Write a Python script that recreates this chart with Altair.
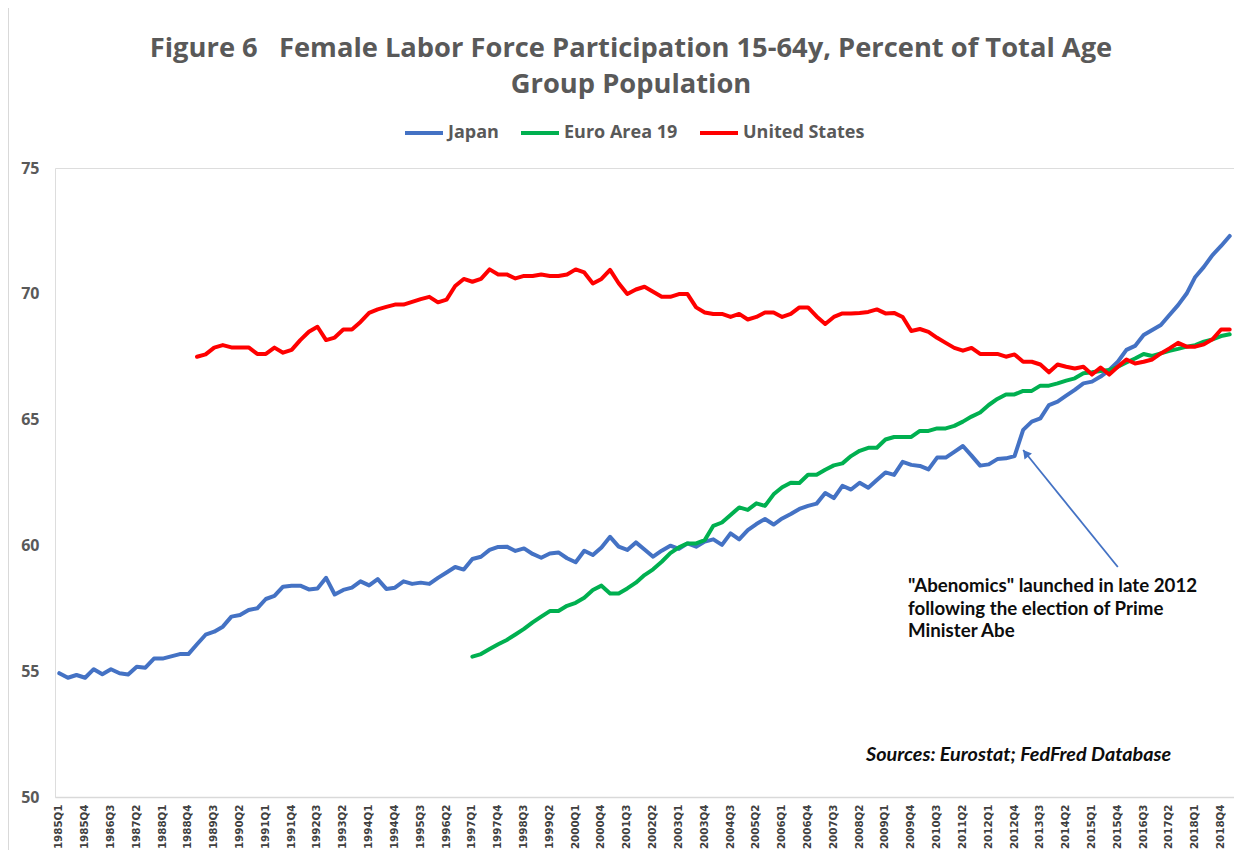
import altair as alt
import pandas as pd

# ---------------- data ----------------
quarters = [f"{y}Q{q}" for y in range(1985, 2020) for q in range(1, 5)][:137]  # 1985Q1 .. 2019Q1
tick_labels = quarters[::3]

japan_start = "1985Q1"
japan = [
    54.92, 54.74, 54.85, 54.74, 55.08, 54.88, 55.08, 54.92, 54.87, 55.18,
    55.14, 55.50, 55.50, 55.59, 55.68, 55.68, 56.07, 56.45, 56.57, 56.77,
    57.17, 57.23, 57.43, 57.50, 57.87, 57.99, 58.36, 58.40, 58.40, 58.25,
    58.29, 58.71, 58.05, 58.23, 58.32, 58.57, 58.41, 58.66, 58.27, 58.32,
    58.57, 58.47, 58.52, 58.47, 58.71, 58.92, 59.14, 59.04, 59.46, 59.55,
    59.82, 59.94, 59.95, 59.78, 59.88, 59.66, 59.51, 59.68, 59.72, 59.49,
    59.33, 59.79, 59.62, 59.92, 60.34, 59.95, 59.82, 60.12, 59.84, 59.55,
    59.79, 59.99, 59.86, 60.08, 59.95, 60.15, 60.24, 60.02, 60.48, 60.24,
    60.61, 60.85, 61.05, 60.83, 61.07, 61.25, 61.45, 61.57, 61.66, 62.08,
    61.88, 62.37, 62.22, 62.49, 62.29, 62.60, 62.90, 62.80, 63.32, 63.20,
    63.16, 63.02, 63.49, 63.49, 63.72, 63.95, 63.57, 63.17, 63.22, 63.43,
    63.46, 63.55, 64.59, 64.92, 65.05, 65.58, 65.71, 65.95, 66.18, 66.44,
    66.51, 66.71, 66.97, 67.30, 67.77, 67.93, 68.36, 68.56, 68.76, 69.16,
    69.55, 70.01, 70.67, 71.07, 71.54, 71.90, 72.30,
]

euro_start = "1997Q1"
euro = [
    55.58, 55.68, 55.88, 56.07, 56.24, 56.46, 56.68, 56.94, 57.17, 57.39,
    57.39, 57.60, 57.72, 57.92, 58.23, 58.40, 58.09, 58.09, 58.29, 58.52,
    58.82, 59.05, 59.35, 59.69, 59.92, 60.08, 60.08, 60.21, 60.78, 60.91,
    61.21, 61.51, 61.41, 61.67, 61.57, 62.03, 62.31, 62.49, 62.48, 62.81,
    62.81, 63.01, 63.18, 63.26, 63.55, 63.76, 63.88, 63.88, 64.21, 64.31,
    64.31, 64.31, 64.55, 64.55, 64.65, 64.65, 64.75, 64.92, 65.12, 65.28,
    65.58, 65.82, 66.00, 66.00, 66.14, 66.14, 66.35, 66.35, 66.44, 66.55,
    66.64, 66.84, 66.88, 66.93, 66.97, 67.10, 67.27, 67.43, 67.61, 67.53,
    67.63, 67.73, 67.81, 67.90, 67.96, 68.10, 68.19, 68.32, 68.39,
]

us_start = "1989Q1"
us = [
    67.50, 67.59, 67.86, 67.96, 67.87, 67.87, 67.87, 67.61, 67.61, 67.86,
    67.66, 67.77, 68.16, 68.49, 68.69, 68.16, 68.26, 68.58, 68.58, 68.88,
    69.24, 69.38, 69.48, 69.57, 69.57, 69.68, 69.79, 69.88, 69.66, 69.77,
    70.31, 70.59, 70.48, 70.59, 70.97, 70.77, 70.77, 70.61, 70.71, 70.71,
    70.77, 70.71, 70.71, 70.77, 70.97, 70.85, 70.41, 70.59, 70.95, 70.42,
    69.99, 70.17, 70.28, 70.08, 69.88, 69.88, 69.99, 69.99, 69.46, 69.26,
    69.20, 69.20, 69.08, 69.20, 68.98, 69.08, 69.26, 69.26, 69.08, 69.20,
    69.46, 69.46, 69.10, 68.80, 69.08, 69.22, 69.22, 69.24, 69.28, 69.38,
    69.22, 69.24, 69.08, 68.52, 68.60, 68.49, 68.25, 68.05, 67.85, 67.74,
    67.85, 67.61, 67.61, 67.61, 67.50, 67.59, 67.30, 67.30, 67.19, 66.88,
    67.19, 67.10, 67.03, 67.10, 66.79, 67.07, 66.79, 67.10, 67.39, 67.23,
    67.30, 67.39, 67.63, 67.83, 68.05, 67.90, 67.90, 67.99, 68.19, 68.58,
    68.58,
]

series_names = ["Japan", "Euro Area 19", "United States"]
series_colors = ["#4472C4", "#00B050", "#FF0000"]

title_text = ("Figure 6\u00a0\u00a0 Female Labor Force Participation 15-64y, Percent of Total Age\n"
              "Group Population")
annotation_text = ('"Abenomics" launched in late 2012\nfollowing the election of Prime\nMinister Abe')
sources_text = "Sources: Eurostat; FedFred Database"

# arrow: from tail to tip (tip points at the 2013Q1 jump in Japan's series)
arrow_tail = ("2015Q4", 59.14)
arrow_tip = ("2013Q1", 63.79)

# ---------------- build table ----------------
rows = []
for name, start, vals in [("Japan", japan_start, japan),
                          ("Euro Area 19", euro_start, euro),
                          ("United States", us_start, us)]:
    i0 = quarters.index(start)
    for k, v in enumerate(vals):
        rows.append({"quarter": quarters[i0 + k], "series": name, "value": v})
df = pd.DataFrame(rows)

x_enc = alt.X(
    "quarter:O",
    scale=alt.Scale(domain=quarters),
    axis=alt.Axis(
        values=tick_labels, title=None, labelAngle=270, labelOverlap=False,
        labelFont="DejaVu Sans", labelFontWeight="bold", labelFontSize=10.3,
        labelColor="#404040", labelPadding=7, ticks=False, labelBound=False,
        domainColor="#D9D9D9", domainWidth=1.5, grid=False,
    ),
)
y_enc = alt.Y(
    "value:Q",
    scale=alt.Scale(domain=[50, 75], nice=False, zero=False),
    axis=alt.Axis(
        values=[50, 55, 60, 65, 70, 75], title=None, grid=False, domain=False,
        ticks=False, labelFont="Open Sans", labelFontWeight="bold",
        labelFontSize=16, labelColor="#595959", labelPadding=16,
    ),
)

lines = alt.Chart(df).mark_line(strokeWidth=4, strokeJoin="round", strokeCap="round").encode(
    x=x_enc,
    y=y_enc,
    color=alt.Color(
        "series:N",
        sort=series_names,
        scale=alt.Scale(domain=series_names, range=series_colors),
        legend=alt.Legend(
            title=None, orient="none", legendX=348, legendY=-56,
            direction="horizontal", symbolType="stroke", symbolSize=1444,
            symbolStrokeWidth=4, labelFont="Open Sans", labelFontWeight="bold",
            labelFontSize=18, labelColor="#595959", labelOffset=3,
            columnPadding=14, padding=0,
        ),
    ),
)

arrow_df = pd.DataFrame({
    "quarter": [arrow_tail[0]], "value": [arrow_tail[1]],
    "quarter2": [arrow_tip[0]], "value2": [arrow_tip[1]],
})
arrow = alt.Chart(arrow_df).mark_rule(color="#4472C4", strokeWidth=1.8).encode(
    x="quarter:O", x2="quarter2", y="value:Q", y2="value2"
)
head_df = pd.DataFrame({"quarter": [arrow_tip[0]], "value": [arrow_tip[1]]})
head = alt.Chart(head_df).mark_point(
    shape="triangle-up", filled=True, size=90, angle=321.5,
    color="#4472C4", opacity=1, xOffset=2.5, yOffset=3.2,
).encode(x="quarter:O", y="value:Q")

one = pd.DataFrame({"t": [title_text], "a": [annotation_text], "s": [sources_text]})

title = alt.Chart(one).mark_text(
    align="center", baseline="alphabetic", font="Open Sans", fontWeight="bold",
    fontSize=27.3, lineHeight=36, color="#595959", lineBreak="\n",
).encode(x=alt.value(576), y=alt.value(-111), text="t:N")

annot = alt.Chart(one).mark_text(
    align="left", baseline="alphabetic", font="Lato", fontWeight="bold",
    fontSize=18.7, lineHeight=22.5, color="#0D0D0D", lineBreak="\n",
).encode(x=alt.value(853), y=alt.value(424), text="a:N")

sources = alt.Chart(one).mark_text(
    align="left", baseline="alphabetic", font="Lato", fontWeight="bold",
    fontStyle="italic", fontSize=19.8, color="#0D0D0D",
).encode(x=alt.value(811), y=alt.value(593), text="s:N")

border = alt.Chart(one).mark_rule(color="#D9D9D9", strokeWidth=1).encode(
    x=alt.value(-46.5), y=alt.value(-160), y2=alt.value(682)
)

chart = alt.layer(border, lines, arrow, head, title, annot, sources).properties(
    width=1179,
    height=629,
    autosize=alt.AutoSizeParams(type="none"),
    padding={"left": 47, "top": 160, "right": 0, "bottom": 53},
).configure_view(strokeWidth=0).configure(background="white")

chart.save("out.html", embed_options={"renderer": "svg", "actions": False})
